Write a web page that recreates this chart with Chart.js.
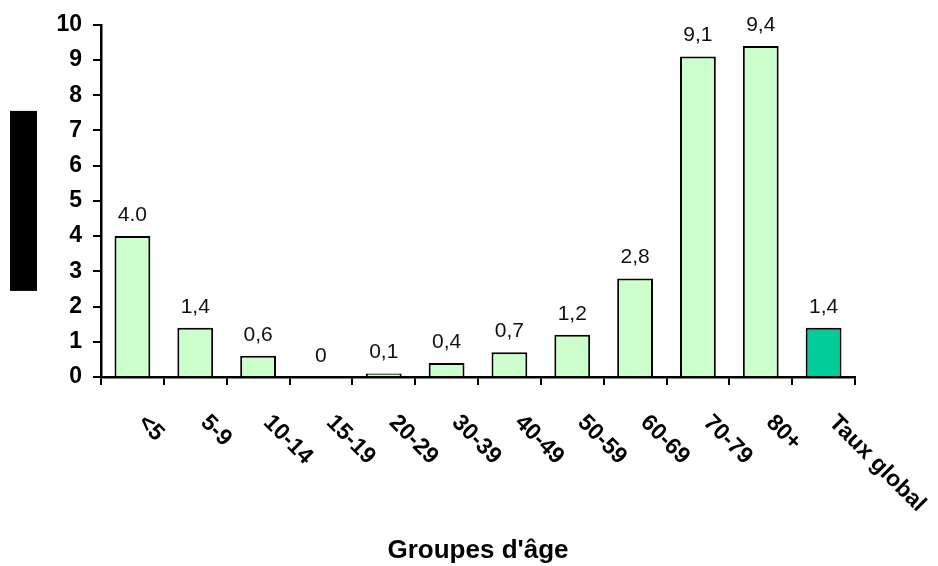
<!DOCTYPE html>
<html>
<head>
<meta charset="utf-8">
<script src="https://cdn.jsdelivr.net/npm/chart.js@4.4.1/dist/chart.umd.min.js"></script>
<style>
  html, body { margin: 0; padding: 0; background: #fff; }
  #wrap { width: 938px; height: 566px; }
</style>
</head>
<body>
<div id="wrap"><canvas id="tauxChart" width="938" height="566"></canvas></div>
<script>
// Données du graphique
const groupes = ['<5', '5-9', '10-14', '15-19', '20-29', '30-39', '40-49', '50-59', '60-69', '70-79', '80+', 'Taux global'];
const taux = [4.0, 1.4, 0.6, 0, 0.1, 0.4, 0.7, 1.2, 2.8, 9.1, 9.4, 1.4];
const etiquettes = ['4.0', '1,4', '0,6', '0', '0,1', '0,4', '0,7', '1,2', '2,8', '9,1', '9,4', '1,4'];
const yTicks = [0, 1, 2, 3, 4, 5, 6, 7, 8, 9, 10];
const couleurs = groupes.map((g, i) => i === groupes.length - 1 ? '#00CC99' : '#CCFFCC');

const FONT = "'Liberation Sans', Arial, sans-serif";

// Étiquettes des valeurs, étiquettes inclinées de l'axe X et cadre noir à gauche
const decorPlugin = {
  id: 'decor',
  afterDatasetsDraw(chart) {
    const ctx = chart.ctx;
    const meta = chart.getDatasetMeta(0);
    ctx.save();
    ctx.fillStyle = '#111';
    ctx.font = '21px ' + FONT;
    ctx.textAlign = 'center';
    ctx.textBaseline = 'alphabetic';
    meta.data.forEach((bar, i) => {
      ctx.fillText(etiquettes[i], bar.x, bar.y - 15);
    });
    ctx.restore();
  },
  afterDraw(chart) {
    const ctx = chart.ctx;
    const xScale = chart.scales.x;
    const area = chart.chartArea;
    ctx.save();
    ctx.fillStyle = '#000';
    ctx.font = 'bold 23px ' + FONT;
    ctx.textAlign = 'left';
    ctx.textBaseline = 'middle';
    groupes.forEach((g, i) => {
      const x = xScale.getPixelForValue(i) + 9;
      const y = xScale.top + 42;
      ctx.save();
      ctx.translate(x, y);
      ctx.rotate(Math.PI / 4);
      ctx.fillText(g, 0, 0);
      ctx.restore();
    });
    // titre de l'axe Y masqué
    const midY = (area.top + area.bottom) / 2;
    ctx.fillRect(area.left - 91, midY - 90, 27, 180);
    ctx.restore();
  }
};

const ctx = document.getElementById('tauxChart').getContext('2d');
const chart = new Chart(ctx, {
  type: 'bar',
  data: {
    labels: groupes,
    datasets: [{
      data: taux,
      backgroundColor: couleurs,
      borderColor: '#000',
      borderWidth: 2,
      borderSkipped: 'start',
      barPercentage: 0.57,
      categoryPercentage: 1.0
    }]
  },
  options: {
    responsive: false,
    animation: false,
    layout: { padding: { top: 24, right: 83, left: 0, bottom: 0 } },
    plugins: {
      legend: { display: false },
      tooltip: { enabled: false }
    },
    scales: {
      x: {
        offset: true,
        afterFit: (scale) => { scale.height = 189; },
        grid: {
          offset: true,
          drawOnChartArea: false,
          drawTicks: true,
          tickLength: 8,
          color: '#000',
          lineWidth: 2
        },
        border: { color: '#000', width: 2.5 },
        ticks: { display: false },
        title: {
          display: true,
          text: "Groupes d'âge",
          color: '#000',
          font: { family: FONT, size: 26, weight: 'bold', lineHeight: 1.2 },
          padding: { top: 0, bottom: 0 }
        }
      },
      y: {
        min: 0,
        max: 10,
        afterFit: (scale) => { scale.width = 101; },
        afterBuildTicks: (scale) => { scale.ticks = yTicks.map(v => ({ value: v })); },
        grid: {
          drawOnChartArea: false,
          drawTicks: true,
          tickLength: 8,
          color: '#000',
          lineWidth: 2
        },
        border: { color: '#000', width: 2.5 },
        ticks: {
          color: '#000',
          padding: 11,
          font: { family: FONT, size: 23, weight: 'bold' }
        }
      }
    }
  },
  plugins: [decorPlugin]
});
</script>
</body>
</html>
